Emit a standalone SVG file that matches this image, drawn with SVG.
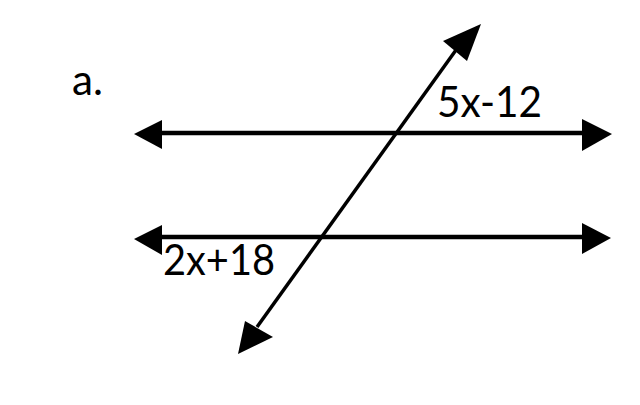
<svg xmlns="http://www.w3.org/2000/svg" width="640" height="405" viewBox="0 0 640 405">
<style>
.ln{stroke:#000;stroke-width:4.5;fill:none}
.dg{stroke:#000;stroke-width:3.5;fill:none}
.ah{fill:#000}
.t{font-family:Lato,"Liberation Sans",sans-serif;font-size:42px;fill:#000}
</style>
<rect width="640" height="405" fill="#fff"/>
<g id="label-a"><text class="t" x="72" y="95" textLength="31" lengthAdjust="spacingAndGlyphs">a.</text></g>
<g id="connectors">
<g id="line-top">
<line class="ln" x1="155" y1="133" x2="590" y2="133"/>
<polygon class="ah" points="134,134 162,120 162,149"/>
<polygon class="ah" points="612,134 582,119 582,151"/>
</g>
<g id="line-bottom">
<line class="ln" x1="155" y1="237" x2="590" y2="237"/>
<polygon class="ah" points="134,239 162,225 162,255"/>
<polygon class="ah" points="611,238 582,223 582,254"/>
</g>
<g id="transversal">
<line class="dg" x1="257" y1="327" x2="456" y2="50"/>
<polygon class="ah" points="481,24 443,41 467,61"/>
<polygon class="ah" points="238,354 245,321 273,337"/>
</g>
</g>
<g id="label-5x"><text class="t" x="437" y="117" textLength="105" lengthAdjust="spacingAndGlyphs">5x-12</text></g>
<g id="label-2x"><text class="t" x="163" y="275" textLength="112" lengthAdjust="spacingAndGlyphs">2x+18</text></g>
</svg>
